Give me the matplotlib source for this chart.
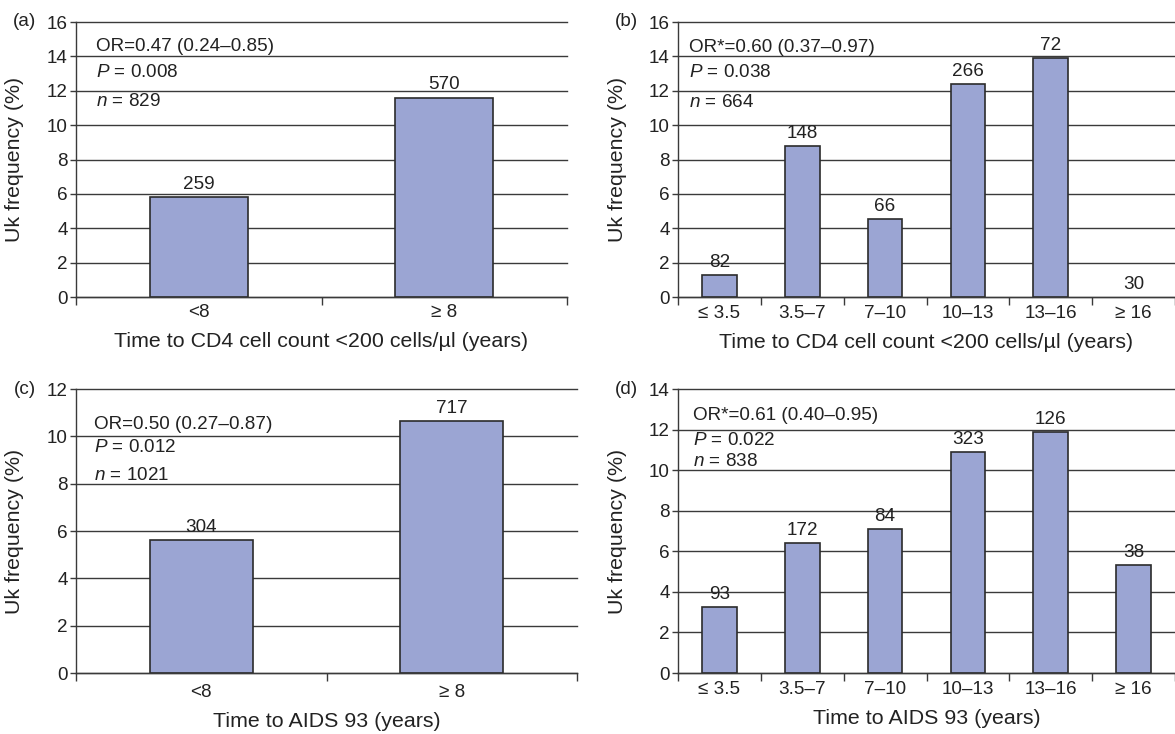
import matplotlib
matplotlib.use("Agg")
import matplotlib.pyplot as plt
import numpy as np

plt.rcParams['font.family'] = ['Liberation Sans', 'DejaVu Sans']
plt.rcParams['mathtext.fontset'] = 'custom'
plt.rcParams['mathtext.rm'] = 'Liberation Sans'
plt.rcParams['mathtext.it'] = 'Liberation Sans:italic'

# ---- data ----
cats_two = ["<8", "≥ 8"]
cats_six = ["≤ 3.5", "3.5–7", "7–10", "10–13", "13–16", "≥ 16"]

a_vals = [5.8, 11.6]
a_n = ["259", "570"]
b_vals = [1.27, 8.8, 4.55, 12.38, 13.92, 0.0]
b_n = ["82", "148", "66", "266", "72", "30"]
c_vals = [5.6, 10.66]
c_n = ["304", "717"]
d_vals = [3.23, 6.42, 7.1, 10.87, 11.88, 5.3]
d_n = ["93", "172", "84", "323", "126", "38"]

a_stats = ["OR=0.47 (0.24–0.85)", "$\\it{P}$ = 0.008", "$\\it{n}$ = 829"]
b_stats = ["OR*=0.60 (0.37–0.97)", "$\\it{P}$ = 0.038", "$\\it{n}$ = 664"]
c_stats = ["OR=0.50 (0.27–0.87)", "$\\it{P}$ = 0.012", "$\\it{n}$ = 1021"]
d_stats = ["OR*=0.61 (0.40–0.95)", "$\\it{P}$ = 0.022", "$\\it{n}$ = 838"]

xlab_cd4 = "Time to CD4 cell count <200 cells/µl (years)"
xlab_aids = "Time to AIDS 93 (years)"
ylab = "Uk frequency (%)"

W, H = 1175, 734
fig = plt.figure(figsize=(W / 100, H / 100), dpi=100)

BAR = '#9ba5d3'
EDGE = '#2b2b2b'
GRID = '#3a3a3a'
TXT = '#222222'
FS = 13.6
FSL = 15.4


def make_ax(x0, x1, ytop, ybot):
    return fig.add_axes([x0 / W, 1 - ybot / H, (x1 - x0) / W, (ybot - ytop) / H])


def panel(ax, cats, vals, ns, stats, ymax, stat_x, stat_y, xlabel, width, tickpad):
    x = np.arange(len(cats))
    ax.set_axisbelow(True)
    lws = [1.2 if v > 0 else 0 for v in vals]
    ax.bar(x, vals, width=width, color=BAR, edgecolor=EDGE, linewidth=lws, zorder=2)
    for xi, v, n in zip(x, vals, ns):
        ax.annotate(n, (xi, v), xytext=(0, 3), textcoords='offset points',
                    ha='center', va='bottom', fontsize=FS, color=TXT)
    ax.set_xlim(-0.5, len(cats) - 0.5)
    ax.set_ylim(0, ymax)
    ax.set_yticks(np.arange(0, ymax + 0.1, 2))
    ax.yaxis.grid(True, color=GRID, linewidth=1.0, clip_on=False)
    ax.set_xticks(np.arange(-0.5, len(cats), 1.0))
    ax.set_xticklabels([])
    ax.set_xticks(x, minor=True)
    ax.set_xticklabels(cats, minor=True)
    ax.tick_params(axis='x', which='major', length=6, width=1.0, color=GRID, direction='out')
    ax.tick_params(axis='x', which='minor', length=0, pad=tickpad, labelsize=FS, labelcolor=TXT)
    ax.tick_params(axis='y', length=4, width=1.0, color=GRID, pad=2, labelsize=FS, labelcolor=TXT)
    for s in ['top', 'right']:
        ax.spines[s].set_visible(False)
    for s in ['left', 'bottom']:
        ax.spines[s].set_color(GRID)
        ax.spines[s].set_linewidth(1.0)
    ax.set_xlabel(xlabel, fontsize=FSL, color=TXT, labelpad=8)
    ax.set_ylabel(ylab, fontsize=FSL, color=TXT)
    for t, yy in zip(stats, stat_y):
        ax.text(stat_x, yy, t, fontsize=FS, color=TXT, ha='left', va='center')
    return ax


ax_a = make_ax(76, 567, 22, 297)
panel(ax_a, cats_two, a_vals, a_n, a_stats, 16, -0.5 + 0.04 * 2, [14.6, 13.06, 11.38],
      xlab_cd4, 0.4, 5)
ax_a.yaxis.set_label_coords(-0.106, 0.5)

ax_b = make_ax(678, 1175, 22, 297)
panel(ax_b, cats_six, b_vals, b_n, b_stats, 16, -0.5 + 0.022 * 6, [14.54, 13.09, 11.31],
      xlab_cd4, 0.42, 6)
ax_b.yaxis.set_label_coords(-0.102, 0.5)

ax_c = make_ax(76, 577, 389, 673)
panel(ax_c, cats_two, c_vals, c_n, c_stats, 12, -0.5 + 0.036 * 2, [10.48, 9.54, 8.35],
      xlab_aids, 0.41, 8)
ax_c.yaxis.set_label_coords(-0.104, 0.5)

ax_d = make_ax(678, 1175, 389, 673)
panel(ax_d, cats_six, d_vals, d_n, d_stats, 14, -0.5 + 0.031 * 6, [12.7, 11.47, 10.44],
      xlab_aids, 0.42, 6)
ax_d.yaxis.set_label_coords(-0.102, 0.5)

for tag, px, py in [("(a)", 13, 22), ("(b)", 615, 22), ("(c)", 14, 389), ("(d)", 615, 389)]:
    fig.text(px / W, 1 - py / H, tag, fontsize=FS, color=TXT, ha='left', va='center')

fig.savefig("out.png", dpi=100, facecolor='white')
